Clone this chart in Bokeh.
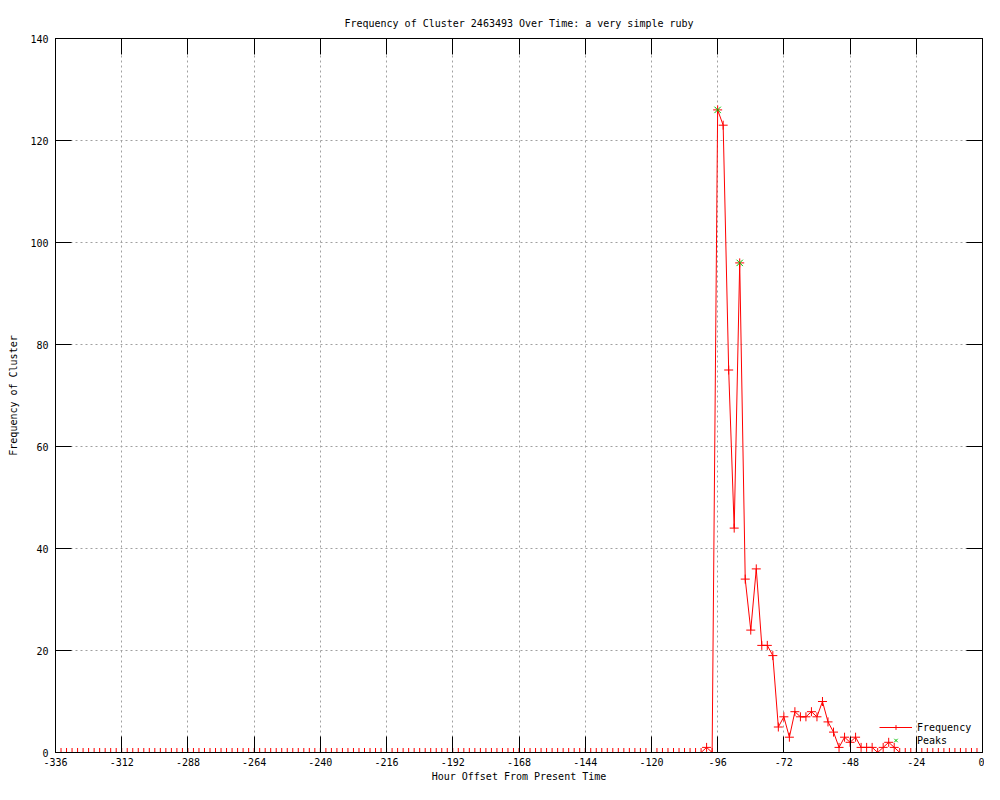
from bokeh.plotting import figure
from bokeh.models import (LinearAxis, FixedTicker, Legend, LegendItem, Range1d, ColumnDataSource)
from bokeh.embed import file_html
from bokeh.resources import INLINE

# ---- data ----
hours = list(range(-336, 1, 2))
frequency = [
    0, 0, 0, 0, 0, 0, 0, 0, 0, 0, 0, 0, 0, 0, 0, 0, 0, 0, 0, 0, 0, 0, 0, 0,
    0, 0, 0, 0, 0, 0, 0, 0, 0, 0, 0, 0, 0, 0, 0, 0, 0, 0, 0, 0, 0, 0, 0, 0,
    0, 0, 0, 0, 0, 0, 0, 0, 0, 0, 0, 0, 0, 0, 0, 0, 0, 0, 0, 0, 0, 0, 0, 0,
    0, 0, 0, 0, 0, 0, 0, 0, 0, 0, 0, 0, 0, 0, 0, 0, 0, 0, 0, 0, 0, 0, 0, 0,
    0, 0, 0, 0, 0, 0, 0, 0, 0, 0, 0, 0, 0, 0, 0, 0, 0, 0, 0, 0, 0, 0,
    1, 0, 126, 123, 75, 44, 96, 34, 24, 36, 21, 21, 19, 5, 7, 3, 8, 7,
    7, 8, 7, 10, 6, 4, 1, 3, 2, 3, 1, 1, 1, 0, 1, 2, 1, 0,
    0, 0, 0, 0, 0, 0, 0, 0, 0, 0, 0, 0, 0, 0, 0,
]
peak_hours = [-96, -88]
peak_values = [126, 96]

x_ticks = [-336, -312, -288, -264, -240, -216, -192, -168, -144, -120, -96, -72, -48, -24, 0]
x_tick_labels = ["-336", "-312", "-288", "-264", "-240", "-216", "-192", "-168",
                 "-144", "-120", "-96", "-72", "-48", "-24", "0"]
y_ticks = [0, 20, 40, 60, 80, 100, 120, 140]
y_tick_labels = ["0", "20", "40", "60", "80", "100", "120", "140"]

title_text = "Frequency of Cluster 2463493 Over Time: a very simple ruby"
x_label = "Hour Offset From Present Time"
y_label = "Frequency of Cluster"

FONT = "DejaVu Sans Mono"
FS = "10px"
RED = "#ff0000"
GREEN = "#00c000"

p = figure(width=984, height=784, output_backend="svg", toolbar_location=None,
           x_range=Range1d(-336, 0), y_range=Range1d(0, 140),
           min_border_left=55, min_border_right=2, min_border_top=38, min_border_bottom=24,
           background_fill_color="white", border_fill_color="white",
           x_axis_label=x_label, y_axis_label=y_label)

p.title.text = title_text
p.title.align = "center"
p.title.text_font = FONT
p.title.text_font_size = FS
p.title.text_font_style = "normal"
p.title.text_color = "black"
p.title.offset = 0
p.title.standoff = 19

p.outline_line_color = "black"
p.outline_line_width = 1

xt = FixedTicker(ticks=x_ticks)
yt = FixedTicker(ticks=y_ticks)


def style_axis(ax):
    ax.major_tick_in = 16
    ax.major_tick_out = 0
    ax.minor_tick_in = 0
    ax.minor_tick_out = 0
    ax.axis_line_color = "black"
    ax.major_tick_line_color = "black"
    ax.major_label_text_font = FONT
    ax.major_label_text_font_size = FS
    ax.major_label_text_color = "black"
    ax.axis_label_text_font = FONT
    ax.axis_label_text_font_size = FS
    ax.axis_label_text_font_style = "normal"
    ax.axis_label_text_color = "black"


xa = p.xaxis[0]
xa.ticker = xt
xa.major_label_overrides = dict(zip(x_ticks, x_tick_labels))
style_axis(xa)
xa.major_label_standoff = 5
xa.axis_label_standoff = 2

ya = p.yaxis[0]
ya.ticker = yt
ya.major_label_overrides = dict(zip(y_ticks, y_tick_labels))
style_axis(ya)
ya.major_label_standoff = 7
ya.axis_label_standoff = 8

# mirrored tick marks (gnuplot style), no labels
top_ax = LinearAxis(ticker=xt)
style_axis(top_ax)
top_ax.major_label_overrides = {t: "" for t in x_ticks}
top_ax.major_label_standoff = 0
p.add_layout(top_ax, "above")

right_ax = LinearAxis(ticker=yt)
style_axis(right_ax)
right_ax.major_label_overrides = {t: "" for t in y_ticks}
right_ax.major_label_standoff = 0
p.add_layout(right_ax, "right")

for g in (p.xgrid[0], p.ygrid[0]):
    g.grid_line_color = "#a0a0a0"
    g.grid_line_dash = "2 3"
    g.grid_line_width = 1
p.xgrid[0].ticker = xt
p.ygrid[0].ticker = yt

src = ColumnDataSource(dict(h=hours, f=frequency))
psrc = ColumnDataSource(dict(h=peak_hours, v=peak_values))

ln = p.line("h", "f", source=src, line_color=RED, line_width=1)
pts = p.scatter("h", "f", source=src, marker="cross", size=9, line_color=RED, line_width=1)
pk = p.scatter("h", "v", source=psrc, marker="x", size=9, line_color=GREEN, line_width=1)

legend = Legend(items=[LegendItem(label="Frequency", renderers=[ln, pts]),
                       LegendItem(label="Peaks", renderers=[pk])],
                location=(822, 4))
legend.label_text_font = FONT
legend.label_text_font_size = FS
legend.label_text_color = "black"
legend.glyph_width = 33
legend.glyph_height = 12
legend.label_height = 12
legend.spacing = 1
legend.padding = 2
legend.margin = 0
legend.background_fill_alpha = 0
legend.border_line_alpha = 0
p.add_layout(legend)

open("out.html", "w").write(file_html(p, INLINE))
